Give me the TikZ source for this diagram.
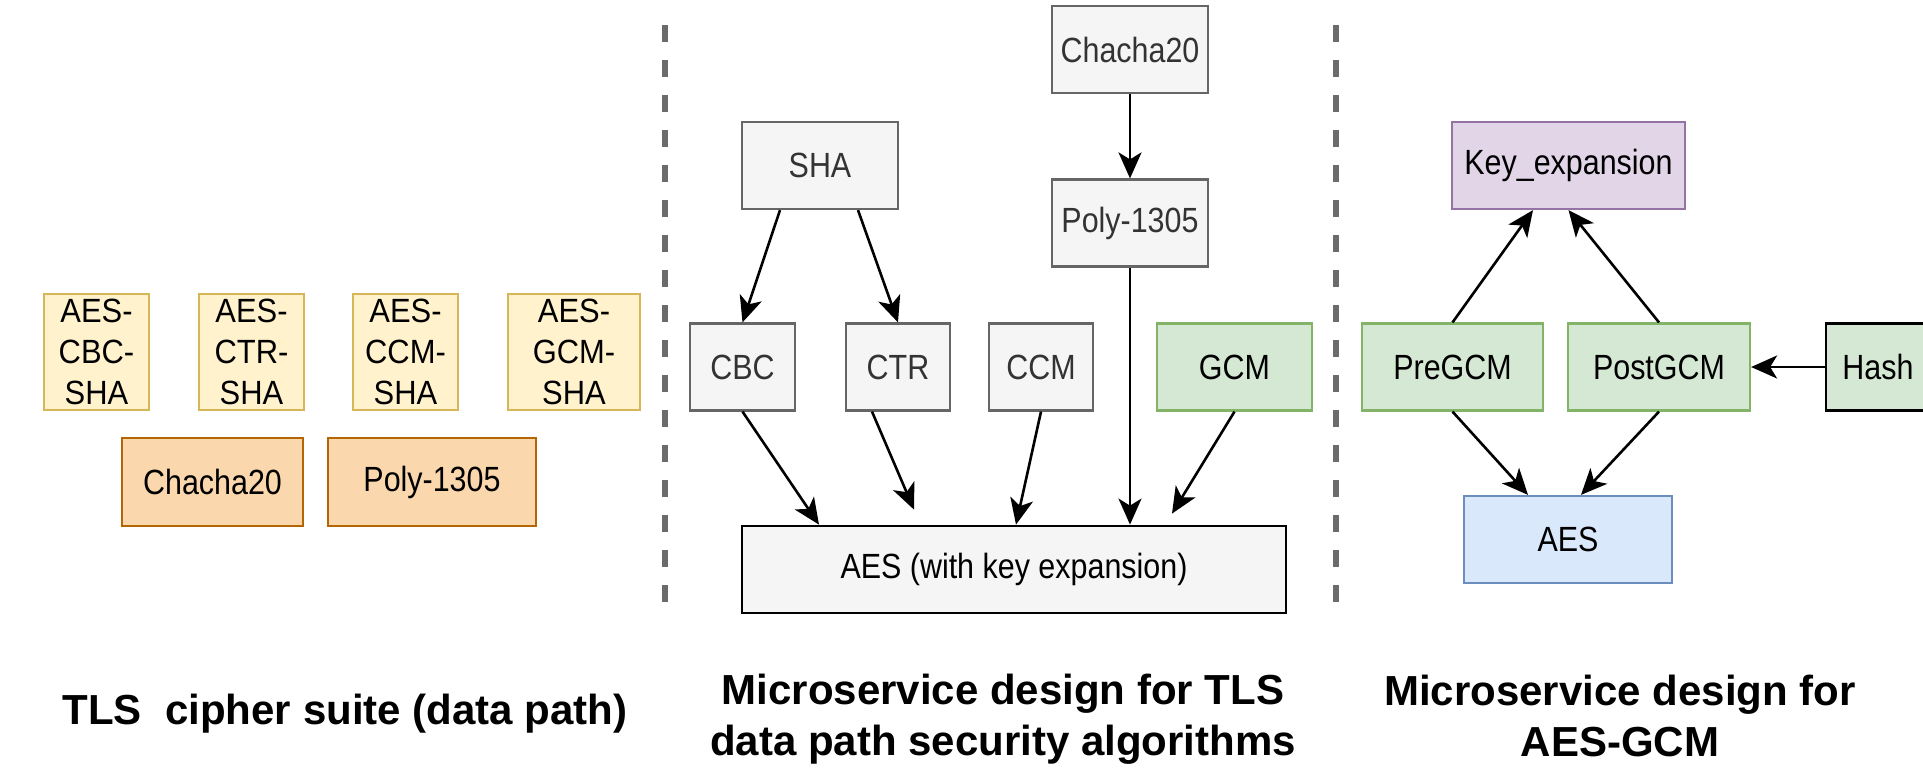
\documentclass[tikz,border=0pt]{standalone}
\usepackage{fontspec}
\setmainfont{Liberation Sans}
\newfontfamily\boxfont{Liberation Sans}[FakeStretch=0.87]
\newfontfamily\suitefont{Liberation Sans}[FakeStretch=0.92]
\usetikzlibrary{arrows.meta,calc}

\definecolor{yelfill}{HTML}{FFF2CC}
\definecolor{yelstroke}{HTML}{D6B656}
\definecolor{orgfill}{HTML}{FAD7AC}
\definecolor{orgstroke}{HTML}{B46504}
\definecolor{grayfill}{HTML}{F5F5F5}
\definecolor{graystroke}{HTML}{666666}
\definecolor{graytext}{HTML}{333333}
\definecolor{grnfill}{HTML}{D5E8D4}
\definecolor{grnstroke}{HTML}{82B366}
\definecolor{purfill}{HTML}{E1D5E7}
\definecolor{purstroke}{HTML}{9673A6}
\definecolor{blufill}{HTML}{DAE8FC}
\definecolor{blustroke}{HTML}{6C8EBF}
\definecolor{sepgray}{HTML}{6B6B6B}

\begin{document}
\begin{tikzpicture}[x=0.5pt,y=-0.5pt,
  box/.style={draw, line width=1.1pt, inner sep=0pt, minimum height=43.5pt,
    font=\boxfont\fontsize{17.5}{21}\selectfont},
  graybox/.style={box, fill=grayfill, draw=graystroke, text=graytext},
  aesbox/.style={box, fill=grayfill, draw=black, line width=1.4pt},
  suitebox/.style={box, fill=yelfill, draw=yelstroke, align=center, minimum height=58pt,
    font=\suitefont\fontsize{16.8}{20.5}\selectfont},
  orangebox/.style={box, fill=orgfill, draw=orgstroke, minimum height=44pt},
  greenbox/.style={box, fill=grnfill, draw=grnstroke},
  purplebox/.style={box, fill=purfill, draw=purstroke},
  bluebox/.style={box, fill=blufill, draw=blustroke},
  hashbox/.style={box, fill=grnfill, draw=black, line width=1.4pt},
  link/.style={-{Stealth[length=13pt,width=11.5pt,inset=3.5pt]}, line width=1.3pt},
  sep/.style={draw=sepgray, line width=3pt, dash pattern=on 8.5pt off 9pt},
  title/.style={font=\bfseries\fontsize{21}{25.5}\selectfont, align=center}]

\useasboundingbox (0,0) rectangle (1923,773);
\fill[white] (0,0) rectangle (1923,773);

% ---- cipher suites ----
\node[suitebox, minimum width=52.5pt] (s1) at (96.5,352) {AES-\\CBC-\\SHA};
\node[suitebox, minimum width=52.5pt] (s2) at (251.5,352) {AES-\\CTR-\\SHA};
\node[suitebox, minimum width=52.5pt] (s3) at (405.5,352) {AES-\\CCM-\\SHA};
\node[suitebox, minimum width=66pt] (s4) at (574,352) {AES-\\GCM-\\SHA};
\node[orangebox, minimum width=90.5pt] (oc) at (212.5,482) {Chacha20};
\node[orangebox, minimum width=104pt] (op) at (432,482) {Poly-1305};

% ---- separators ----
\coordinate (sepAtop) at (665,25);
\coordinate (sepAbot) at (665,617);
\coordinate (sepBtop) at (1336,25);
\coordinate (sepBbot) at (1336,617);
\draw[sep] (sepAtop) -- (sepAbot);
\draw[sep] (sepBtop) -- (sepBbot);

% ---- TLS data path microservices ----
\node[graybox, minimum width=78pt] (sha) at (820,165.5) {SHA};
\node[graybox, minimum width=78pt] (cha) at (1130,49.5) {Chacha20};
\node[graybox, minimum width=78pt] (poly) at (1130,223) {Poly-1305};
\node[graybox, minimum width=52.5pt] (cbc) at (742.5,367) {CBC};
\node[graybox, minimum width=52pt] (ctr) at (898,367) {CTR};
\node[graybox, minimum width=52pt] (ccm) at (1041,367) {CCM};
\node[greenbox, minimum width=77.5pt] (gcm) at (1234.5,367) {GCM};
\node[aesbox, minimum width=272pt] (aes) at (1014,569.5) {AES (with key expansion)};

\coordinate (ctrEnd) at ([xshift=-50pt,yshift=7.5pt]aes.north);
\coordinate (gcmEnd) at ([xshift=79pt,yshift=5.5pt]aes.north);

\draw[link] ([xshift=-20pt]sha.south) -- (cbc.north);
\draw[link] ([xshift=19pt]sha.south) -- (ctr.north);
\draw[link] (cha) -- (poly);
\draw[link] (cbc.south) -- ([xshift=-97.5pt]aes.north);
\draw[link] ([xshift=-13pt]ctr.south) -- (ctrEnd);
\draw[link] (ccm.south) -- ([xshift=1pt]aes.north);
\draw[link] (poly.south) -- ([xshift=58pt]aes.north);
\draw[link] (gcm.south) -- (gcmEnd);

% ---- AES-GCM microservices ----
\node[purplebox, minimum width=116.5pt] (kex) at (1568.5,165.5) {Key\_expansion};
\node[greenbox, minimum width=90.5pt] (pre) at (1452.5,367) {PreGCM};
\node[greenbox, minimum width=91pt] (post) at (1659,367) {PostGCM};
\node[hashbox, minimum width=52pt] (hash) at (1878,367) {Hash};
\node[bluebox, minimum width=104pt] (aes2) at (1568,539.5) {AES};

\draw[link] (pre.north) -- ([xshift=-17.75pt]kex.south);
\draw[link] (post.north) -- (kex.south);
\draw[link] (pre.south) -- ([xshift=-20pt]aes2.north);
\draw[link] (post.south) -- ([xshift=6.5pt]aes2.north);
\draw[link] (hash) -- (post);

% ---- captions ----
\node[title] (t1) at (345,714) {TLS\ \ cipher suite (data path)};
\node[title] (t2) at (1003,719) {Microservice design for TLS\\data path security algorithms};
\node[title] (t3) at (1620,716) {Microservice design for\\AES-GCM};
\end{tikzpicture}
\end{document}
